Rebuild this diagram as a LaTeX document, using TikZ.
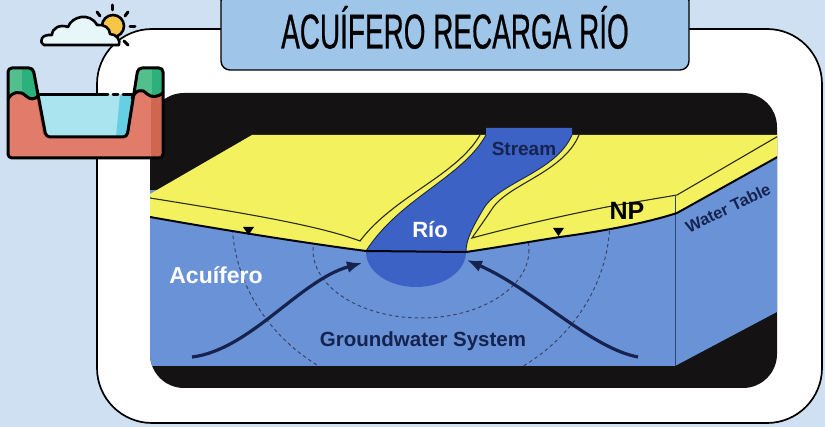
\documentclass[tikz,border=0pt]{standalone}
\usepackage{fontspec}
\setmainfont{Liberation Sans}
\newfontfamily\titlefont[FakeStretch=0.57,FakeBold=0.45]{Liberation Sans}
\usetikzlibrary{arrows.meta}

\definecolor{bgblue}{HTML}{CFE0F2}
\definecolor{titleblue}{HTML}{9FC5E8}
\definecolor{aquifer}{HTML}{6A93D7}
\definecolor{river}{HTML}{3D62C5}
\definecolor{soil}{HTML}{F3F15E}
\definecolor{ink}{HTML}{17234F}
\definecolor{imgblack}{HTML}{141212}
\definecolor{edge}{HTML}{2B2B12}
\definecolor{terra}{HTML}{E07C69}
\definecolor{terradark}{HTML}{CF6650}
\definecolor{grass}{HTML}{52BF8D}
\definecolor{grassdark}{HTML}{2CB07C}
\definecolor{water}{HTML}{A9E4EF}
\definecolor{waterdark}{HTML}{66CFE3}
\definecolor{cloud}{HTML}{E6F6F9}
\definecolor{sun}{HTML}{F7C548}

\tikzset{
  titlebox/.style={draw=black, line width=1.4pt, fill=titleblue, rounded corners=9pt,
    minimum width=468pt, minimum height=78pt, inner sep=0pt,
    font=\titlefont\fontsize{49}{49}\selectfont, text height=35pt, text depth=0pt},
  whitelabel/.style={text=white, font=\bfseries\fontsize{22}{22}\selectfont, inner sep=0pt},
  navylabel/.style={text=ink, font=\bfseries\fontsize{20.5}{20.5}\selectfont, inner sep=0pt},
  flowarrow/.style={draw=ink, line width=3.2pt, -{Latex[length=15pt,width=12pt]}},
  flowline/.style={draw=ink!85, line width=1pt, dash pattern=on 3.5pt off 3pt},
  iconline/.style={draw=black, line width=3pt, line join=round, line cap=round},
}

\begin{document}
\begin{tikzpicture}[x=1pt,y=-1pt]
\useasboundingbox (0,0) rectangle (825,427);
\fill[bgblue] (0,0) rectangle (825,427);

% white card
\draw[line width=1.7pt, fill=white, rounded corners=55pt] (97,29) rectangle (822,423);

% ---------------- cross-section of the aquifer ----------------
\begin{scope}
\clip[rounded corners=34pt] (150,93) rectangle (777,388);
\fill[imgblack] (140,85) rectangle (790,395);

% front face and side face of the block
\fill[aquifer] (145,190) rectangle (675,366);
\fill[aquifer] (675,195) -- (790,130) -- (790,305) -- (675,366) -- cycle;

% flow lines of the groundwater system, kept on the front face
\begin{scope}
\clip (145,190) rectangle (675,366);
\draw[flowline] (421,250) ellipse [x radius=108, y radius=68];
\draw[flowline] (421,218) ellipse [x radius=189, y radius=176];
\end{scope}

% recharge zone under the channel
\fill[river] (416,252) ellipse [x radius=50, y radius=35];

% river channel
\fill[river] (486,128) -- (486,135) .. controls (462,178) and (400,198) .. (366,251)
  -- (466,252) .. controls (466,240) and (472,228) .. (484,208)
  .. controls (500,182) and (556,172) .. (572,135) -- (572,128) -- cycle;

% unsaturated zone, left and right of the river
\fill[soil] (150,194) -- (252,135) -- (486,135) .. controls (462,178) and (400,198) .. (366,251)
  .. controls (320,245) and (240,233) .. (150,217) -- cycle;
\fill[soil] (572,135) -- (790,135) -- (790,150) -- (677,213)
  .. controls (640,225) and (590,233) .. (560,237)
  .. controls (540,240) and (500,247) .. (466,252)
  .. controls (466,240) and (472,228) .. (484,208)
  .. controls (500,182) and (556,172) .. (572,135) -- cycle;

% ground surface edges
\draw[edge, line width=1.1pt] (150,198) .. controls (250,214) and (320,226) .. (360,241)
  .. controls (394,196) and (456,176) .. (480,135);
\draw[edge, line width=1.1pt] (780,135) -- (677,195) -- (612,206)
  .. controls (580,212) and (520,225) .. (472,238)
  .. controls (476,232) and (482,224) .. (492,209)
  .. controls (508,184) and (563,173) .. (579,135);

% river banks
\draw[ink, line width=0.9pt] (486,135) .. controls (462,178) and (400,198) .. (366,251);
\draw[ink, line width=0.9pt] (466,252) .. controls (466,240) and (472,228) .. (484,208)
  .. controls (500,182) and (556,172) .. (572,135);

% side face edge
\draw[ink!70!aquifer, line width=1pt] (675,195) -- (675,366);

% water table
\draw[black!85!ink, line width=2pt] (150,217) .. controls (240,233) and (320,245) .. (366,251)
  -- (466,252) .. controls (500,247) and (540,240) .. (560,237)
  .. controls (590,233) and (640,225) .. (677,213) -- (790,150);

% water table markers
\fill[black] (243,227) -- (254,227) -- (248.5,235) -- cycle;
\fill[black] (553,228) -- (564,228) -- (558.5,236) -- cycle;

% flow toward the river
\coordinate (flowL) at (192,357);
\coordinate (tipL) at (362,263);
\coordinate (flowR) at (638,357);
\coordinate (tipR) at (467,260);
\draw[flowarrow] (flowL) .. controls (250,350) and (300,280) .. (tipL);
\draw[flowarrow] (flowR) .. controls (590,348) and (535,290) .. (tipR);

% labels
\node[navylabel, font=\bfseries\fontsize{19}{19}\selectfont] (stream) at (524,149) {Stream};
\node[whitelabel] (rio) at (430,230) {Río};
\node[whitelabel, font=\bfseries\fontsize{23}{23}\selectfont] (acuifero) at (216,275) {Acuífero};
\node[navylabel] (gws) at (423,341) {Groundwater System};
\node[text=black, font=\bfseries\fontsize{25}{25}\selectfont, inner sep=0pt] (np) at (627,211) {NP};
\node[navylabel, font=\bfseries\fontsize{16.5}{16.5}\selectfont, rotate=25.5] (wt) at (728,208) {Water Table};
\end{scope}

% title
\node[titlebox] (title) at (455,31) {ACUÍFERO RECARGA RÍO};

% ---------------- weather and river bank icon ----------------
% sun
\fill[sun] (113,26) circle (11);
\draw[iconline, line width=2.6pt] (113,26) circle (11);
\draw[iconline] (112,5) -- (112,10);
\draw[iconline] (97,12) -- (100,16);
\draw[iconline] (128,12) -- (125,16);
\draw[iconline] (130,27) -- (135,27);
\draw[iconline] (124,41) -- (128,45);
% cloud
\fill[cloud] (44,45) .. controls (38,41) and (42,34) .. (52,35)
  .. controls (52,28) and (60,24) .. (68,27)
  .. controls (72,16) and (90,12) .. (97,25)
  .. controls (104,24) and (110,28) .. (110,34)
  .. controls (116,34) and (121,40) .. (119,45) -- cycle;
\draw[iconline, line width=2.6pt] (44,45) .. controls (38,41) and (42,34) .. (52,35)
  .. controls (52,28) and (60,24) .. (68,27)
  .. controls (72,16) and (90,12) .. (97,25)
  .. controls (104,24) and (110,28) .. (110,34)
  .. controls (116,34) and (121,40) .. (119,45) -- cycle;

% river bank block
\fill[terra, rounded corners=4pt] (8,68) -- (33,68) -- (46,137) -- (127,137) -- (138,68)
  -- (163,68) -- (163,158) -- (8,158) -- cycle;
\fill[terradark, rounded corners=3pt] (151,68) -- (163,68) -- (163,158) -- (151,158) -- cycle;
\fill[terradark] (36,95) -- (41,95) -- (47,135) -- (43,135) -- cycle;
% water
\fill[water] (37,95) -- (134,95) -- (128,133) -- (125,137) -- (48,137) -- (44,131) -- cycle;
\fill[waterdark] (120,95) -- (134,95) -- (128,133) -- (125,137) -- (116,137) -- cycle;
% grass caps
\fill[grass] (8,68) -- (33,68) -- (39,95) .. controls (35,100) and (30,100) .. (26,96)
  .. controls (20,90) and (12,92) .. (8,99) -- cycle;
\fill[grassdark] (22,68) -- (33,68) -- (39,95) .. controls (35,100) and (30,100) .. (26,96)
  .. controls (24,94) and (22,92) .. (22,91) -- cycle;
\fill[grass] (138,68) -- (163,68) -- (163,93) .. controls (158,97) and (152,98) .. (147,94)
  .. controls (142,88) and (136,90) .. (132,98) -- cycle;
\fill[grassdark] (152,68) -- (163,68) -- (163,93) .. controls (158,97) and (155,97) .. (152,96) -- cycle;
% outlines
\draw[iconline, rounded corners=4pt] (8,68) -- (33,68) -- (46,137) -- (127,137) -- (138,68)
  -- (163,68) -- (163,158) -- (8,158) -- cycle;
\draw[iconline] (8,99) .. controls (12,92) and (20,90) .. (26,96)
  .. controls (30,100) and (35,100) .. (39,95);
\draw[iconline] (163,93) .. controls (158,97) and (152,98) .. (147,94)
  .. controls (142,88) and (136,90) .. (132,98);
\draw[iconline] (40,95) -- (108,95);
\draw[iconline] (113,95) -- (118,95);
\draw[iconline] (123,95) -- (132,95);
\end{tikzpicture}
\end{document}
